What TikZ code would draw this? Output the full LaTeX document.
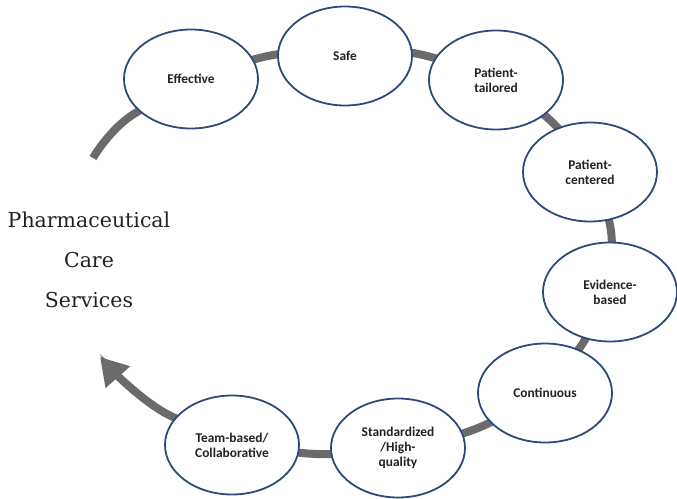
\documentclass[tikz,border=0pt]{standalone}
\usepackage{fontspec}
\setmainfont{Carlito}
\newfontfamily\titlefont{DejaVu Serif}
\usetikzlibrary{shapes.geometric,arrows.meta}
\definecolor{ringblue}{HTML}{2E4A7D}
\definecolor{arcgray}{HTML}{6B6B6B}
\definecolor{txt}{HTML}{222222}
\tikzset{
  bubble/.style={ellipse, draw=ringblue, line width=1.8pt, fill=white,
    minimum width=134pt, minimum height=99pt, inner sep=0pt, align=center,
    font=\fontsize{13.4}{15}\selectfont\bfseries, text=txt},
  band/.style={draw=arcgray, line width=8pt},
  title/.style={align=center, font=\titlefont\fontsize{20.5}{40}\selectfont, text=txt}
}
\begin{document}
\begin{tikzpicture}[x=1pt,y=-1pt]
\useasboundingbox (0,0) rectangle (677,498);
% path points of the gray band
\coordinate (p0) at (93,158);
\coordinate (p1) at (137,112);
\coordinate (p2) at (268,56);
\coordinate (p3) at (423,55);
\coordinate (p4) at (551,121);
\coordinate (p5) at (611,231);
\coordinate (p6) at (581,346);
\coordinate (p7) at (478,428);
\coordinate (p8) at (316,454);
\coordinate (p9) at (173,417);
\coordinate (tip) at (100,357);
\draw[band, -{Triangle[length=27pt,width=31pt]}]
  plot[smooth, tension=0.55] coordinates {(p0) (p1) (p2) (p3) (p4) (p5) (p6) (p7) (p8) (p9) (tip)};
% bubbles
\node[bubble] (eff) at (191,79) {Effective};
\node[bubble] (safe) at (345,56) {Safe};
\node[bubble] (ptail) at (496,80) {Patient-\\tailored};
\node[bubble] (pcent) at (590,172) {Patient-\\centered};
\node[bubble] (evid) at (610,292) {Evidence-\\based};
\node[bubble] (cont) at (545,393) {Continuous};
\node[bubble] (std) at (398,448) {Standardized\\/High-\\quality};
\node[bubble] (team) at (232,445) {Team-based/\\Collaborative};
% title
\node[title] (pcs) at (89,260) {Pharmaceutical\\Care\\Services};
\end{tikzpicture}
\end{document}
